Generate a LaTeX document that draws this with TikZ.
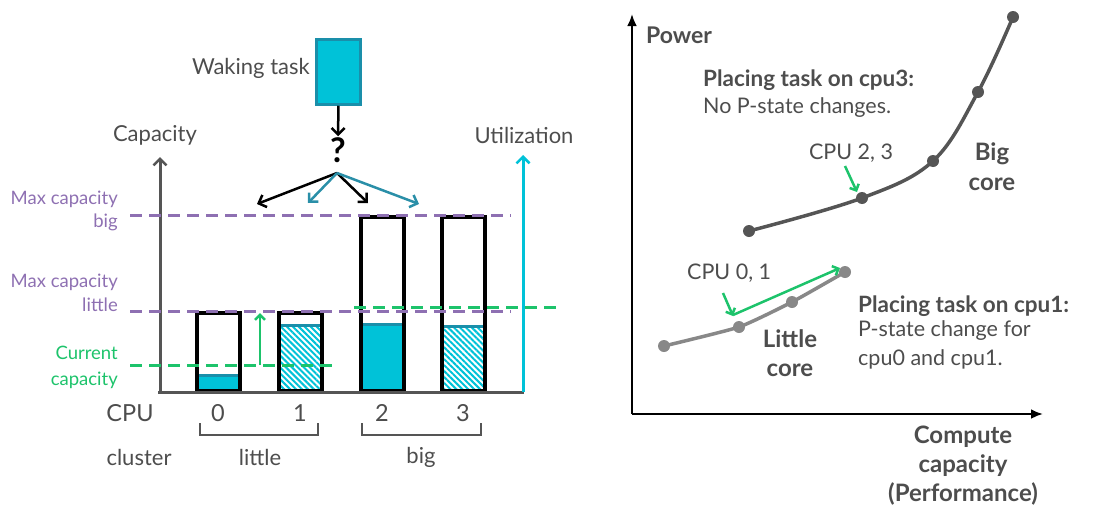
\documentclass[tikz,border=0pt]{standalone}
\usepackage{fontspec}
\setmainfont{Lato}
\usetikzlibrary{arrows.meta,patterns.meta}
\definecolor{txt}{HTML}{4D4D4D}
\definecolor{axgray}{HTML}{555555}
\definecolor{purp}{HTML}{8E70B2}
\definecolor{grn}{HTML}{1DC36B}
\definecolor{cyanF}{HTML}{00C2D8}
\definecolor{tealD}{HTML}{1A8FAA}
\definecolor{tealA}{HTML}{2A8FA8}
\definecolor{bigc}{HTML}{555555}
\definecolor{litc}{HTML}{888888}
\newcommand{\fsz}[1]{\fontsize{#1}{#1}\selectfont}
\tikzset{
  lbl/.style={inner sep=0pt, text=txt},
  chev/.style={-{Straight Barb[length=6.5pt,width=13pt,line width=2.5pt]}},
  purpdash/.style={draw=purp, line width=3pt, dash pattern=on 12pt off 7pt},
  grndash/.style={draw=grn, line width=3pt, dash pattern=on 12pt off 7pt},
  barbox/.style={draw=black, line width=4pt},
  bracket/.style={draw=axgray, line width=2pt},
  dotbig/.style={circle, fill=bigc, inner sep=0pt, minimum size=12pt},
  dotlit/.style={circle, fill=litc, inner sep=0pt, minimum size=12pt},
  grnarr/.style={draw=grn, line width=2.5pt, -{Straight Barb[length=5pt,width=10pt,line width=2.5pt]}},
  hatch/.style={pattern={Lines[angle=-45,distance=4.2pt,line width=2pt]}, pattern color=cyanF},
}
\begin{document}
\begin{tikzpicture}[x=1pt,y=-1pt]
\useasboundingbox (0,0) rectangle (1093,509);

% ---------------- LEFT PANEL ----------------
% fills
\fill[cyanF] (199,374) rectangle (238,390);
\fill[tealD] (199,374) rectangle (238,377);
\fill[white] (281,324) rectangle (320,390);
\path[hatch] (281,327) rectangle (320,390);
\fill[tealD] (281,324) rectangle (320,327);
\fill[cyanF] (363,323) rectangle (402,390);
\fill[tealD] (363,323) rectangle (402,326);
\path[hatch] (444,328) rectangle (483,390);
\fill[tealD] (444,325) rectangle (483,328);

% bars
\draw[barbox] (197,312.5) rectangle (240,391);
\draw[barbox] (279,312.5) rectangle (322,391);
\draw[barbox] (361,217) rectangle (404,391);
\draw[barbox] (442,217) rectangle (485,391);

% axes
\coordinate (o) at (160,392);
\coordinate (ytop) at (160,157);
\coordinate (xend) at (524,392);
\coordinate (uo) at (523,392);
\coordinate (utop) at (523,155);
\draw[axgray, line width=3pt] (158,392) -- (xend);
\draw[axgray, line width=3pt, chev] (o) -- (ytop);
\draw[cyanF, line width=3pt, chev] (uo) -- (utop);

% dashed lines
\coordinate (pb1) at (130,215); \coordinate (pb2) at (511,215);
\coordinate (pl1) at (130,311); \coordinate (pl2) at (511,311);
\coordinate (gc1) at (130,365); \coordinate (gc2) at (332,365);
\coordinate (gr1) at (354,307); \coordinate (gr2) at (560,307);
\draw[purpdash] (pb1) -- (pb2);
\draw[purpdash] (pl1) -- (pl2);
\draw[grndash] (gc1) -- (gc2);
\draw[grndash] (gr1) -- (gr2);

% green up arrow
\coordinate (ga1) at (260,365); \coordinate (ga2) at (260,313);
\draw[grnarr] (ga1) -- (ga2);

% labels left
\node[lbl, text=purp, anchor=east, align=right, font=\fsz{18.5}] (mcb) at (118,211)
  {Max capacity\\[5pt]big};
\node[lbl, text=purp, anchor=east, align=right, font=\fsz{18.5}] (mcl) at (118,293)
  {Max capacity\\[5pt]little};
\node[lbl, text=grn, anchor=east, align=right, font=\fsz{18.5}] (cc) at (118,367)
  {Current\\[7.5pt]capacity};

\node[lbl, font=\fsz{22}] (cap) at (155,135) {Capacity};
\node[lbl, font=\fsz{22}] (util) at (524,135) {Utilization};

% waking task
\node[draw=tealD, fill=cyanF, line width=2.5pt, minimum width=44pt, minimum height=65pt, inner sep=0pt] (task) at (338.5,72) {};
\node[lbl, anchor=east, font=\fsz{22}] (wt) at (310,68) {Waking task};
\node[lbl, font=\bfseries\fsz{34}, text=black, inner sep=1pt] (q) at (338,150) {?};
\draw[black, line width=2.5pt, chev] (task.south) -- (q.north);

% fan arrows
\coordinate (fan) at (337,173);
\coordinate (t0) at (257,204);
\coordinate (t1) at (308,203);
\coordinate (t2) at (368,203);
\coordinate (t3) at (419,204);
\draw[black, line width=2.5pt, chev] (fan) -- (t0);
\draw[black, line width=2.5pt, chev] (fan) -- (t2);
\draw[tealA, line width=2.5pt, chev] (fan) -- (t1);
\draw[tealA, line width=2.5pt, chev] (fan) -- (t3);

% CPU labels
\node[lbl, font=\fsz{23.5}] (cpu) at (130,413) {CPU};
\node[lbl, font=\fsz{23.5}] (c0) at (218,413) {0};
\node[lbl, font=\fsz{23.5}] (c1) at (300,413) {1};
\node[lbl, font=\fsz{23.5}] (c2) at (382,413) {2};
\node[lbl, font=\fsz{23.5}] (c3) at (463,413) {3};

% brackets
\draw[bracket] (200,423) -- (200,435) -- (318,435) -- (318,423);
\draw[bracket] (362,423) -- (362,435) -- (481,435) -- (481,423);

\node[lbl, font=\fsz{22}] (clu) at (139,457) {cluster};
\node[lbl, font=\fsz{22}] (lit) at (260,457) {little};
\node[lbl, font=\fsz{22}] (bigl) at (421,457) {big};

% ---------------- RIGHT PANEL ----------------
\coordinate (ro) at (632,414);
\coordinate (ry) at (632,14);
\coordinate (rx) at (1043,414);
\draw[black, line width=2.5pt, -{Latex[length=12pt,width=10pt]}] (ro) -- (ry);
\draw[black, line width=2.5pt, -{Latex[length=12pt,width=10pt]}] (ro) -- (rx);

\node[lbl, anchor=west, font=\bfseries\fsz{23}] (pow) at (646,35) {Power};

% big core curve
\coordinate (b1) at (749,231);
\coordinate (b2) at (862,198);
\coordinate (b3) at (933,161);
\coordinate (b4) at (978,92);
\coordinate (b5) at (1013,17);
\draw[bigc, line width=3.5pt] plot[smooth, tension=0.6] coordinates {(b1) (b2) (b3) (b4) (b5)};
\foreach \p in {b1,b2,b3,b4,b5} \node[dotbig] at (\p) {};

% little core curve
\coordinate (l1) at (664,346);
\coordinate (l2) at (739,327);
\coordinate (l3) at (792,302);
\coordinate (l4) at (845,272);
\draw[litc, line width=3.5pt] plot[smooth, tension=0.3] coordinates {(l1) (l2) (l3) (l4)};
\foreach \p in {l1,l2,l3,l4} \node[dotlit] at (\p) {};

\node[lbl, anchor=west, font=\bfseries\fsz{22.5}] (pc3) at (703,80) {Placing task on cpu3:};
\node[lbl, anchor=west, font=\fsz{21.5}] (nop) at (703,108) {No P-state changes.};

\node[lbl, font=\fsz{21.5}] (cpu23) at (851,153) {CPU 2, 3};
\coordinate (a23s) at (845,166);
\coordinate (a23e) at (857,192);
\draw[grnarr] (a23s) -- (a23e);

\node[lbl, font=\bfseries\fsz{24}, align=center] (bigcore) at (992,167) {Big\\[6pt]core};

\node[lbl, anchor=west, font=\fsz{21.5}] (cpu01) at (687,273) {CPU 0, 1};
\coordinate (a01s) at (723,293);
\coordinate (a01e) at (733,316);
\draw[grnarr] (a01s) -- (a01e);
\coordinate (lng1) at (733,315);
\coordinate (lng2) at (840,268);
\draw[grnarr] (lng1) -- (lng2);

\node[lbl, font=\bfseries\fsz{24}, align=center] (litcore) at (790,353) {Little\\[5pt]core};

\node[lbl, anchor=west, font=\bfseries\fsz{22.5}] (pc1) at (858,306) {Placing task on cpu1:};
\node[lbl, anchor=west, font=\fsz{21.5}] (ps1) at (858,331) {P-state change for};
\node[lbl, anchor=west, font=\fsz{21.5}] (ps2) at (858,359) {cpu0 and cpu1.};

\node[lbl, font=\bfseries\fsz{24}, align=center] (comp) at (963,466) {Compute\\[5pt]capacity\\[5pt](Performance)};
\end{tikzpicture}
\end{document}
